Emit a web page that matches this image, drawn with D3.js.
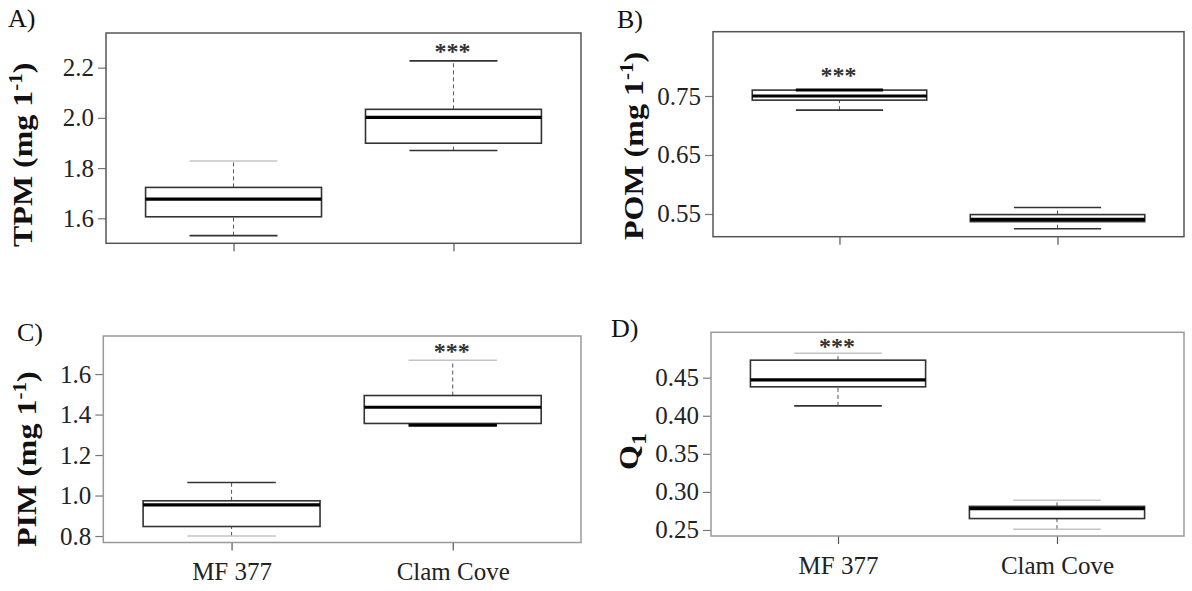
<!DOCTYPE html>
<html lang="en">
    <head>
        <meta charset="UTF-8" />
        <title>Seston boxplots</title>
        <style>
            html,
            body {
                margin: 0;
                background: #fff;
            }
            svg text {
                font-family: "Liberation Serif", "Times New Roman", serif;
            }
        </style>
    </head>
    <body>
        <div id="chart"></div>
        <script src="https://cdn.jsdelivr.net/npm/d3@7"></script>
        <script>
            const groups = ["MF 377", "Clam Cove"];

            // per group: [lower whisker, Q1, median, Q3, upper whisker]
            const tpm = [
                [1.531, 1.606, 1.676, 1.723, 1.828],
                [1.87, 1.899, 2.002, 2.034, 2.227]
            ];
            const pom = [
                [0.726, 0.743, 0.75, 0.76, 0.76],
                [0.525, 0.537, 0.541, 0.549, 0.561]
            ];
            const pim = [
                [0.8, 0.847, 0.954, 0.974, 1.064],
                [1.347, 1.356, 1.436, 1.494, 1.668]
            ];
            const q1 = [
                [0.413, 0.438, 0.447, 0.473, 0.482],
                [0.251, 0.265, 0.278, 0.281, 0.289]
            ];

            const tpmTicks = [1.6, 1.8, 2.0, 2.2];
            const pomTicks = [0.55, 0.65, 0.75];
            const pimTicks = [0.8, 1.0, 1.2, 1.4, 1.6];
            const q1Ticks = [0.25, 0.3, 0.35, 0.4, 0.45];

            const letters = ["A)", "B)", "C)", "D)"];
            const significant = ["Clam Cove", "MF 377", "Clam Cove", "MF 377"];

            const width = 1192;
            const height = 591;
            const light = "#c4c4c4";
            const dark = "#333";

            // layout + styling of each panel
            const panels = [
                {
                    data: tpm, ticks: tpmTicks, fmt: ".1f", domain: [1.5004, 2.338],
                    x0: 106, x1: 581, y0: 33, y1: 243.3, frame: "#555",
                    label: [["TPM (mg 1"], ["-1", "sup"], [")"]], labelX: 32, labelY: 247,
                    letterX: 8, letterY: 27, starGap: 13, xLabels: false,
                    caps: [[light, dark], [dark, dark]]
                },
                {
                    data: pom, ticks: pomTicks, fmt: ".2f", domain: [0.5115, 0.859],
                    x0: 713, x1: 1184, y0: 31.7, y1: 236.7, frame: "#555",
                    label: [["POM (mg 1"], ["-1", "sup"], [")"]], labelX: 643, labelY: 240,
                    letterX: 617, letterY: 28, starGap: 18, xLabels: false,
                    caps: [["#000", dark], [dark, dark]]
                },
                {
                    data: pim, ticks: pimTicks, fmt: ".1f", domain: [0.768, 1.788],
                    x0: 103.3, x1: 581, y0: 336, y1: 542.5, frame: "#999",
                    label: [["PIM (mg 1"], ["-1", "sup"], [")"]], labelX: 36, labelY: 547,
                    letterX: 17, letterY: 341, starGap: 12, xLabels: true,
                    caps: [[dark, light], [light, "#000"]]
                },
                {
                    data: q1, ticks: q1Ticks, fmt: ".2f", domain: [0.2421, 0.5096],
                    x0: 711, x1: 1184, y0: 332.3, y1: 536, frame: "#999",
                    label: [["Q"], ["1", "sub"]], labelX: 638, labelY: 470,
                    letterX: 611, letterY: 337, starGap: 10, xLabels: true,
                    caps: [[light, dark], [light, light]]
                }
            ];

            const svg = d3
                .select("#chart")
                .append("svg")
                .attr("width", width)
                .attr("height", height);

            panels.forEach((p, i) => drawPanel(p, i));

            function drawPanel(p, i) {
                const g = svg.append("g");

                const x = d3
                    .scalePoint()
                    .domain(groups)
                    .range([p.x0, p.x1])
                    .padding(0.58);
                const y = d3.scaleLinear().domain(p.domain).range([p.y1, p.y0]);

                const step = x.step();
                const boxW = step * 0.8;
                const capW = step * 0.4;

                // y axis
                const yAxis = g
                    .append("g")
                    .attr("transform", `translate(${p.x0},0)`)
                    .call(
                        d3
                            .axisLeft(y)
                            .tickValues(p.ticks)
                            .tickFormat(d3.format(p.fmt))
                            .tickSize(8)
                            .tickPadding(4)
                    );
                yAxis.select(".domain").remove();
                yAxis.selectAll(".tick line").attr("stroke", "#777").attr("stroke-width", 1.2);
                yAxis
                    .selectAll(".tick text")
                    .attr("font-size", 25)
                    .attr("fill", "#222")
                    .style("font-family", '"Liberation Serif", serif');

                // x axis
                const xAxis = g
                    .append("g")
                    .attr("transform", `translate(0,${p.y1})`)
                    .call(d3.axisBottom(x).tickSize(8).tickPadding(12));
                xAxis.select(".domain").remove();
                xAxis.selectAll(".tick line").attr("stroke", "#555").attr("stroke-width", 1.2);
                xAxis
                    .selectAll(".tick text")
                    .attr("font-size", 25)
                    .attr("fill", "#222")
                    .style("font-family", '"Liberation Serif", serif')
                    .style("display", p.xLabels ? null : "none");

                // frame
                g.append("rect")
                    .attr("x", p.x0)
                    .attr("y", p.y0)
                    .attr("width", p.x1 - p.x0)
                    .attr("height", p.y1 - p.y0)
                    .attr("fill", "none")
                    .attr("stroke", p.frame)
                    .attr("stroke-width", 1.5);

                const boxes = g
                    .selectAll(".box")
                    .data(p.data.map((d, j) => ({ group: groups[j], s: d, caps: p.caps[j] })))
                    .join("g")
                    .attr("class", "box");

                // whiskers
                boxes
                    .append("line")
                    .attr("x1", d => x(d.group))
                    .attr("x2", d => x(d.group))
                    .attr("y1", d => y(d.s[3]))
                    .attr("y2", d => y(d.s[4]))
                    .attr("stroke", "#555")
                    .attr("stroke-dasharray", "4,3");
                boxes
                    .append("line")
                    .attr("x1", d => x(d.group))
                    .attr("x2", d => x(d.group))
                    .attr("y1", d => y(d.s[0]))
                    .attr("y2", d => y(d.s[1]))
                    .attr("stroke", "#555")
                    .attr("stroke-dasharray", "4,3");

                // box
                boxes
                    .append("rect")
                    .attr("x", d => x(d.group) - boxW / 2)
                    .attr("width", boxW)
                    .attr("y", d => y(d.s[3]))
                    .attr("height", d => y(d.s[1]) - y(d.s[3]))
                    .attr("fill", "#fff")
                    .attr("stroke", "#333")
                    .attr("stroke-width", 1.6);

                // caps
                boxes
                    .append("line")
                    .attr("x1", d => x(d.group) - capW / 2)
                    .attr("x2", d => x(d.group) + capW / 2)
                    .attr("y1", d => y(d.s[4]))
                    .attr("y2", d => y(d.s[4]))
                    .attr("stroke", d => d.caps[0])
                    .attr("stroke-width", d => (d.caps[0] === "#000" ? 3 : 1.6));
                boxes
                    .append("line")
                    .attr("x1", d => x(d.group) - capW / 2)
                    .attr("x2", d => x(d.group) + capW / 2)
                    .attr("y1", d => y(d.s[0]))
                    .attr("y2", d => y(d.s[0]))
                    .attr("stroke", d => d.caps[1])
                    .attr("stroke-width", d => (d.caps[1] === "#000" ? 3 : 1.6));

                // median
                boxes
                    .append("line")
                    .attr("x1", d => x(d.group) - boxW / 2)
                    .attr("x2", d => x(d.group) + boxW / 2)
                    .attr("y1", d => y(d.s[2]))
                    .attr("y2", d => y(d.s[2]))
                    .attr("stroke", "#000")
                    .attr("stroke-width", 3.2);

                // significance stars
                const sig = p.data[groups.indexOf(significant[i])];
                g.append("text")
                    .attr("x", x(significant[i]) - 1)
                    .attr("y", y(sig[4]) - p.starGap + 11)
                    .attr("text-anchor", "middle")
                    .attr("font-size", 24)
                    .attr("font-weight", "bold")
                    .attr("fill", "#333")
                    .text("***");

                // panel letter
                g.append("text")
                    .attr("x", p.letterX)
                    .attr("y", p.letterY)
                    .attr("font-size", 26)
                    .attr("fill", "#111")
                    .text(letters[i]);

                // y label
                const lab = g
                    .append("text")
                    .attr("transform", `translate(${p.labelX},${p.labelY}) scale(0.85,1) rotate(-90)`)
                    .attr("font-size", 32)
                    .attr("font-weight", "bold")
                    .attr("fill", "#111");
                p.label.forEach(([t, kind]) => {
                    const ts = lab.append("tspan").text(t);
                    if (kind === "sup") ts.attr("dy", -12).attr("font-size", 21);
                    else if (kind === "sub") ts.attr("dy", 9).attr("font-size", 24);
                    else if (p.label.length > 1 && t === ")") ts.attr("dy", 12);
                });
            }
        </script>
    </body>
</html>
